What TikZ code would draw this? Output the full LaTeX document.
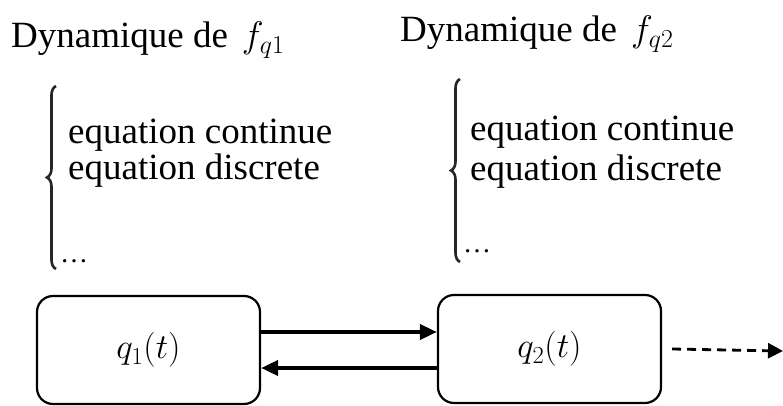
\documentclass[tikz,border=0pt]{standalone}
\usepackage{fix-cm}
\usepackage{fontspec}
\setmainfont{Liberation Serif}
\usetikzlibrary{arrows.meta,decorations.pathreplacing}
\begin{document}
\begin{tikzpicture}[x=1pt,y=-1pt,
  txt/.style={anchor=base west,inner sep=0pt,font=\fontsize{37}{37}\selectfont},
  dots/.style={anchor=base west,inner sep=0pt,font=\fontsize{28}{28}\selectfont},
  state/.style={draw,line width=2.2pt,rounded corners=16pt,minimum width=223pt,minimum height=108pt,inner sep=0pt,font=\fontsize{35}{35}\selectfont},
  bracedec/.style={decorate,decoration={brace,amplitude=9pt},line width=2.6pt,draw=black!85},
  link/.style={line width=3.8pt,-{Triangle[length=17pt,width=15pt]}},
  dashlink/.style={line width=2.8pt,dash pattern=on 9pt off 6pt,-{Triangle[length=15pt,width=15pt]}}]
\useasboundingbox (0,0) rectangle (783,406);
\node[txt] (t1) at (11,48) {Dynamique de\hspace{14pt}$f_{q1}$};
\node[txt] (t2) at (400,42) {Dynamique de\hspace{14pt}$f_{q2}$};
\node[txt] (a1) at (68,143) {equation continue};
\node[txt] (a2) at (68,179) {equation discrete};
\node[dots] (a3) at (60,262) {\ldots};
\node[txt] (b1) at (470,141) {equation continue};
\node[txt] (b2) at (470,180) {equation discrete};
\node[dots] (b3) at (463,252) {\ldots};
\coordinate (ba1) at (56,269);
\coordinate (ba2) at (56,86);
\coordinate (bb1) at (460,262);
\coordinate (bb2) at (460,79);
\draw[bracedec] (ba1) -- (ba2);
\draw[bracedec] (bb1) -- (bb2);
\node[state] (q1) at (148.5,350) {$q_1(t)$};
\node[state] (q2) at (549.5,349) {$q_2(t)$};
\draw[link] ([yshift=18pt]q1.east) -- ([yshift=18pt]q1.east -| q2.west);
\draw[link] ([yshift=-19pt]q2.west) -- ([yshift=-19pt]q2.west -| q1.east);
\coordinate (out) at (783,351);
\draw[dashlink] ([xshift=10pt]q2.east) -- (out);
\end{tikzpicture}
\end{document}
